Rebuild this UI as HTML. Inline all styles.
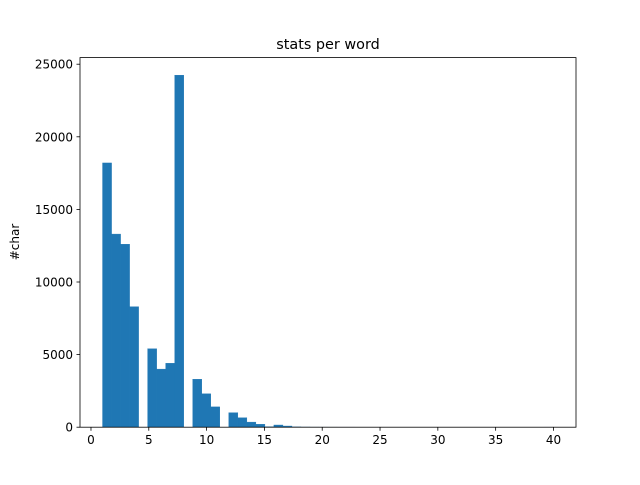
<!DOCTYPE html>
<html><head><meta charset="utf-8">
<style>
body{margin:0;background:#fff;font-family:"Liberation Sans","DejaVu Sans",sans-serif;}
svg text{font-family:"DejaVu Sans","Liberation Sans",sans-serif;}
</style></head>
<body>
<svg id="chart" width="640" height="480">
<rect width="640" height="480" fill="#fff"/>
<text x="328" y="49" text-anchor="middle" font-size="14.4">stats per word</text>
<text transform="translate(19,242) rotate(-90)" text-anchor="middle" font-size="12">#char</text>
<g id="bars"></g>
<g id="axes"></g>
</svg>
<script>
const binStart = 1;
const binWidth = 0.78;
const counts = [18200,13300,12600,8300,0,5400,4000,4400,24243,0,3300,2300,1400,0,1000,650,350,200,30,150,80,20,10,5,3,2,1,1,0,0,0,0,0,0,0,0,0,0,0,0,0,0,0,0,0,0,0,0,0,1];
const xTicks = [0,5,10,15,20,25,30,35,40];
const yTicks = [0,5000,10000,15000,20000,25000];
const L=80,R=576,T=57.6,B=427.2;
const xmin=-0.95,xmax=41.95,ymin=0,ymax=25455;
const sx=v=>L+(v-xmin)/(xmax-xmin)*(R-L);
const sy=v=>B-(v-ymin)/(ymax-ymin)*(B-T);
const NS="http://www.w3.org/2000/svg";
const bars=document.getElementById('bars');
counts.forEach((c,i)=>{
  if(c<=0) return;
  const x0=sx(binStart+i*binWidth), x1=sx(binStart+(i+1)*binWidth);
  const r=document.createElementNS(NS,'rect');
  r.setAttribute('x',x0);r.setAttribute('width',x1-x0);
  r.setAttribute('y',sy(c));r.setAttribute('height',B-sy(c));
  r.setAttribute('fill','#1f77b4');
  r.setAttribute('stroke','#1f77b4');r.setAttribute('stroke-width','0.4');
  
  
  bars.appendChild(r);
});
const ax=document.getElementById('axes');
const fr=document.createElementNS(NS,'rect');
fr.setAttribute('x',L);fr.setAttribute('y',T);fr.setAttribute('width',R-L);fr.setAttribute('height',B-T);
fr.setAttribute('fill','none');fr.setAttribute('stroke','#000');fr.setAttribute('stroke-width','0.8');


ax.appendChild(fr);
xTicks.forEach(t=>{
  const x=sx(t);
  const l=document.createElementNS(NS,'line');
  l.setAttribute('x1',x);l.setAttribute('x2',x);l.setAttribute('y1',B);l.setAttribute('y2',B+3.5);
  l.setAttribute('stroke','#000');l.setAttribute('stroke-width','0.8');
  
  
  ax.appendChild(l);
  const tx=document.createElementNS(NS,'text');
  tx.setAttribute('x',x);tx.setAttribute('y',B+17);tx.setAttribute('text-anchor','middle');tx.setAttribute('font-size','12');
  tx.textContent=t;
  
  
  ax.appendChild(tx);
});
yTicks.forEach(t=>{
  const y=sy(t);
  const l=document.createElementNS(NS,'line');
  l.setAttribute('x1',L-3.5);l.setAttribute('x2',L);l.setAttribute('y1',y);l.setAttribute('y2',y);
  l.setAttribute('stroke','#000');l.setAttribute('stroke-width','0.8');
  
  
  ax.appendChild(l);
  const tx=document.createElementNS(NS,'text');
  tx.setAttribute('x',L-7);tx.setAttribute('y',y+4.5);tx.setAttribute('text-anchor','end');tx.setAttribute('font-size','12');
  tx.textContent=t;
  
  
  ax.appendChild(tx);
});
</script>
</body></html>
